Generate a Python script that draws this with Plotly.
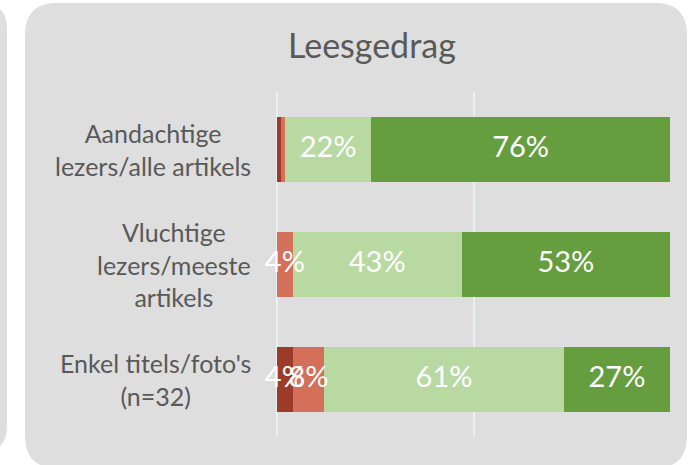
import plotly.graph_objects as go

# ---- data ----
categories = ["Aandachtige<br>lezers/alle artikels",
              "Vluchtige<br>lezers/meeste<br>artikels",
              "Enkel titels/foto's<br>(n=32)"]
series_names = ["Zeer negatief", "Negatief", "Positief", "Zeer positief"]
dark_red = [1, 0, 4]
salmon = [1, 4, 8]
light_green = [22, 43, 61]
dark_green = [76, 53, 27]
colors = ["#9c3b2a", "#d4705a", "#b9d9a3", "#659d3f"]
title_text = "Leesgedrag"

W, H = 692, 465
ML, MR, MT, MB = 277, 22, 92, 28
PW, PH = W - ML - MR, H - MT - MB


def px(x):
    return (x - ML) / PW


def py(y):
    return (H - MB - y) / PH


def rounded(x0, y0, x1, y1, r):
    pts = [
        f"M {px(x0 + r)} {py(y0)}",
        f"L {px(x1 - r)} {py(y0)}",
        f"Q {px(x1)} {py(y0)} {px(x1)} {py(y0 + r)}",
        f"L {px(x1)} {py(y1 - r)}",
        f"Q {px(x1)} {py(y1)} {px(x1 - r)} {py(y1)}",
        f"L {px(x0 + r)} {py(y1)}",
        f"Q {px(x0)} {py(y1)} {px(x0)} {py(y1 - r)}",
        f"L {px(x0)} {py(y0 + r)}",
        f"Q {px(x0)} {py(y0)} {px(x0 + r)} {py(y0)}",
        "Z",
    ]
    return " ".join(pts)


series = [dark_red, salmon, light_green, dark_green]

fig = go.Figure()
for name, vals, col in zip(series_names, series, colors):
    fig.add_trace(go.Bar(
        y=categories, x=vals, name=name, orientation="h",
        marker=dict(color=col, line=dict(width=0)),
        hoverinfo="skip",
    ))

# data labels on top of all bars, at the centre of each segment
lab_x, lab_y, lab_t = [], [], []
for i, c in enumerate(categories):
    cum = 0
    for vals in series:
        v = vals[i]
        if v >= 3:
            lab_x.append(cum + v / 2)
            lab_y.append(c)
            lab_t.append(f"{v}%")
        cum += v
fig.add_trace(go.Scatter(
    x=lab_x, y=lab_y, text=lab_t, mode="text", textposition="middle center",
    textfont=dict(color="white", size=29, family="Lato"),
    hoverinfo="skip", cliponaxis=False,
))

shapes = [
    dict(type="path", path=rounded(-40, 3, 7, 452, 26), xref="paper", yref="paper",
         fillcolor="#dedede", line=dict(width=0), layer="below"),
    dict(type="path", path=rounded(25, 3, 687, 468, 32), xref="paper", yref="paper",
         fillcolor="#dedede", line=dict(width=0), layer="below"),
]

annotations = [
    dict(text=c, x=px(253), xref="paper", y=c, yref="y", xanchor="right",
         yanchor="middle", align="center", showarrow=False,
         font=dict(family="Lato", size=25, color="#595959"))
    for c in categories
]
annotations.append(dict(text=title_text, x=px(372), y=py(45), xref="paper", yref="paper",
                        xanchor="center", yanchor="middle", showarrow=False,
                        font=dict(family="Lato", size=34, color="#595959")))

fig.update_layout(
    width=W, height=H,
    margin=dict(l=ML, r=MR, t=MT, b=MB),
    barmode="stack", bargap=0.43,
    paper_bgcolor="white", plot_bgcolor="rgba(0,0,0,0)",
    showlegend=False,
    shapes=shapes, annotations=annotations,
    xaxis=dict(range=[0, 100], dtick=50, showgrid=True, gridcolor="#e6f2f2", gridwidth=2,
               zeroline=True, zerolinecolor="#e6f2f2", zerolinewidth=2,
               showticklabels=False, showline=False, fixedrange=True),
    yaxis=dict(autorange="reversed", showticklabels=False, showgrid=False,
               zeroline=False, showline=False, fixedrange=True),
    font=dict(family="Lato", color="#595959"),
)

fig.write_html("out.html", config={"displayModeBar": False, "staticPlot": True},
               post_script="document.body.style.margin='0';document.body.style.overflow='hidden';")
